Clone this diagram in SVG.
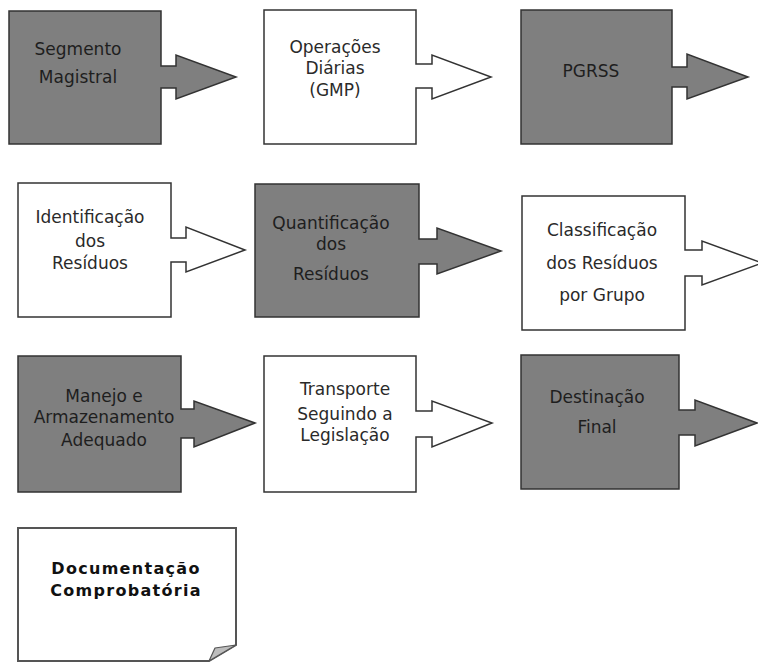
<svg xmlns="http://www.w3.org/2000/svg" width="758" height="662" viewBox="0 0 758 662">
<style>
.g{fill:#7f7f7f;stroke:#333;stroke-width:1.5;stroke-linejoin:miter}
.w{fill:#fff;stroke:#333;stroke-width:1.5;stroke-linejoin:miter}
.t{font-family:"DejaVu Sans",Verdana,sans-serif;font-size:17px;fill:#1e1e1e;text-anchor:middle}
.tw{font-family:"DejaVu Sans",Verdana,sans-serif;font-size:17px;fill:#2a2a2a;text-anchor:middle}
.d{font-family:"DejaVu Sans",Verdana,sans-serif;font-size:16px;font-weight:bold;letter-spacing:1.3px;fill:#111;text-anchor:middle}
</style>
<rect width="758" height="662" fill="#fff"/>
<g id="connectors"></g>
<g id="n1">
<path class="g" d="M9,11 H161 V66 H176 V55 L236,77 L176,99 V88 H161 V144 H9 Z"/>
<text class="t" x="78" y="55">Segmento</text>
<text class="t" x="78" y="83">Magistral</text>
</g>
<g id="n2">
<path class="w" d="M264,10 H416 V64 H432 V55 L491,77 L432,99 V88 H416 V144 H264 Z"/>
<text class="tw" x="335" y="53">Operações</text>
<text class="tw" x="335" y="74">Diárias</text>
<text class="tw" x="335" y="96">(GMP)</text>
</g>
<g id="n3">
<path class="g" d="M521,10 H672 V67 H687 V54 L748,77 L687,99 V87 H672 V144 H521 Z"/>
<text class="t" x="591" y="77">PGRSS</text>
</g>
<g id="n4">
<path class="w" d="M18,183 H171 V238 H186 V227 L245,250 L186,272 V262 H171 V317 H18 Z"/>
<text class="tw" x="90" y="223">Identificação</text>
<text class="tw" x="90" y="247">dos</text>
<text class="tw" x="90" y="269">Resíduos</text>
</g>
<g id="n5">
<path class="g" d="M255,184 H419 V239 H437 V228 L501,251 L437,274 V264 H419 V317 H255 Z"/>
<text class="t" x="331" y="229">Quantificação</text>
<text class="t" x="331" y="250">dos</text>
<text class="t" x="331" y="280">Resíduos</text>
</g>
<g id="n6">
<path class="w" d="M522,196 H685 V250 H702 V241 L762,263 L702,285 V276 H685 V330 H522 Z"/>
<text class="tw" x="602" y="236">Classificação</text>
<text class="tw" x="602" y="269">dos Resíduos</text>
<text class="tw" x="602" y="301">por Grupo</text>
</g>
<g id="n7">
<path class="g" d="M18,356 H181 V409 H194 V401 L255,423 L194,447 V438 H181 V492 H18 Z"/>
<text class="t" x="104" y="402">Manejo e</text>
<text class="t" x="104" y="423">Armazenamento</text>
<text class="t" x="104" y="446">Adequado</text>
</g>
<g id="n8">
<path class="w" d="M264,356 H416 V411 H432 V401 L492,423 L432,447 V437 H416 V492 H264 Z"/>
<text class="tw" x="345" y="395">Transporte</text>
<text class="tw" x="345" y="420">Seguindo a</text>
<text class="tw" x="345" y="441">Legislação</text>
</g>
<g id="n9">
<path class="g" d="M521,355 H679 V410 H695 V400 L757,423 L695,446 V435 H679 V489 H521 Z"/>
<text class="t" x="597" y="403">Destinação</text>
<text class="t" x="597" y="433">Final</text>
</g>
<g id="n10">
<path d="M18,528 H236 V645 L209,661 H18 Z" fill="#fff" stroke="#555" stroke-width="2"/>
<path d="M236,645 L215,648 L209,661 Z" fill="#bdbdbd" stroke="#555" stroke-width="1.2" stroke-linejoin="round"/>
<text class="d" x="126" y="574">Documentação</text>
<text class="d" x="126" y="596">Comprobatória</text>
</g>
</svg>
